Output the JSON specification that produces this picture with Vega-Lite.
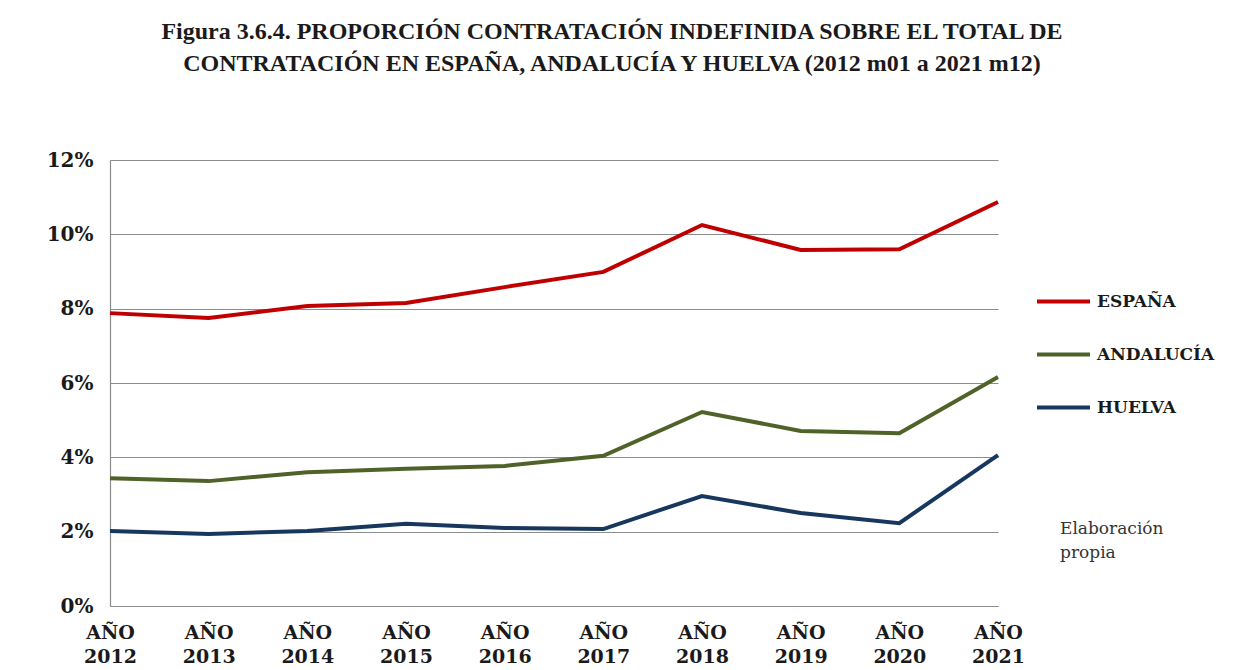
{
  "$schema": "https://vega.github.io/schema/vega-lite/v6.json",
  "autosize": "none",
  "width": 888,
  "height": 446,
  "padding": {"left": 110, "top": 160, "right": 241, "bottom": 64},
  "background": "white",
  "config": {
    "view": {"stroke": null},
    "font": "DejaVu Serif"
  },
  "title": {
    "text": ["Figura 3.6.4. PROPORCIÓN CONTRATACIÓN INDEFINIDA SOBRE EL TOTAL DE", "CONTRATACIÓN  EN ESPAÑA, ANDALUCÍA Y HUELVA (2012 m01 a 2021 m12)"],
    "font": "Liberation Serif",
    "fontSize": 24,
    "fontWeight": "bold",
    "color": "#1a1a1a",
    "lineHeight": 32,
    "anchor": "middle",
    "frame": "group",
    "dx": 58,
    "offset": 74
  },
  "datasets": {
    "series": [
      {"anio": "2012", "serie": "ESPAÑA", "valor": 0.0788},
      {"anio": "2013", "serie": "ESPAÑA", "valor": 0.0775},
      {"anio": "2014", "serie": "ESPAÑA", "valor": 0.0807},
      {"anio": "2015", "serie": "ESPAÑA", "valor": 0.0815},
      {"anio": "2016", "serie": "ESPAÑA", "valor": 0.0858},
      {"anio": "2017", "serie": "ESPAÑA", "valor": 0.0899},
      {"anio": "2018", "serie": "ESPAÑA", "valor": 0.1025},
      {"anio": "2019", "serie": "ESPAÑA", "valor": 0.0958},
      {"anio": "2020", "serie": "ESPAÑA", "valor": 0.0960},
      {"anio": "2021", "serie": "ESPAÑA", "valor": 0.1087},
      {"anio": "2012", "serie": "ANDALUCÍA", "valor": 0.0344},
      {"anio": "2013", "serie": "ANDALUCÍA", "valor": 0.0336},
      {"anio": "2014", "serie": "ANDALUCÍA", "valor": 0.0360},
      {"anio": "2015", "serie": "ANDALUCÍA", "valor": 0.0369},
      {"anio": "2016", "serie": "ANDALUCÍA", "valor": 0.0377},
      {"anio": "2017", "serie": "ANDALUCÍA", "valor": 0.0404},
      {"anio": "2018", "serie": "ANDALUCÍA", "valor": 0.0522},
      {"anio": "2019", "serie": "ANDALUCÍA", "valor": 0.0471},
      {"anio": "2020", "serie": "ANDALUCÍA", "valor": 0.0465},
      {"anio": "2021", "serie": "ANDALUCÍA", "valor": 0.0616},
      {"anio": "2012", "serie": "HUELVA", "valor": 0.0202},
      {"anio": "2013", "serie": "HUELVA", "valor": 0.0194},
      {"anio": "2014", "serie": "HUELVA", "valor": 0.0202},
      {"anio": "2015", "serie": "HUELVA", "valor": 0.0221},
      {"anio": "2016", "serie": "HUELVA", "valor": 0.0210},
      {"anio": "2017", "serie": "HUELVA", "valor": 0.0207},
      {"anio": "2018", "serie": "HUELVA", "valor": 0.0296},
      {"anio": "2019", "serie": "HUELVA", "valor": 0.0250},
      {"anio": "2020", "serie": "HUELVA", "valor": 0.0223},
      {"anio": "2021", "serie": "HUELVA", "valor": 0.0406}
    ],
    "nota": [
      {"anio": "2021", "valor": 0.02, "texto": "Elaboración\npropia"}
    ]
  },
  "layer": [
    {
      "data": {"name": "series"},
      "mark": {"type": "line", "strokeWidth": 4, "strokeJoin": "miter"},
      "encoding": {
        "x": {
          "field": "anio",
          "type": "ordinal",
          "scale": {"type": "point", "padding": 0},
          "axis": {
            "title": null,
            "labelExpr": "['AÑO', datum.label]",
            "labelFont": "DejaVu Serif",
            "labelFontSize": 19,
            "labelFontWeight": "bold",
            "labelColor": "#1a1a1a",
            "labelAngle": 0,
            "labelLineHeight": 24,
            "labelPadding": 17,
            "labelBaseline": "top",
            "ticks": false,
            "domainColor": "#8c8c8c",
            "domainWidth": 1.2,
            "grid": false
          }
        },
        "y": {
          "field": "valor",
          "type": "quantitative",
          "scale": {"domain": [0, 0.12], "nice": false},
          "axis": {
            "title": null,
            "values": [0, 0.02, 0.04, 0.06, 0.08, 0.1, 0.12],
            "format": ".0%",
            "labelFont": "DejaVu Serif",
            "labelFontSize": 20,
            "labelFontWeight": "bold",
            "labelColor": "#1a1a1a",
            "labelPadding": 17,
            "ticks": false,
            "domainColor": "#8c8c8c",
            "domainWidth": 1.2,
            "grid": true,
            "gridColor": "#8c8c8c",
            "gridWidth": 1.2
          }
        },
        "color": {
          "field": "serie",
          "type": "nominal",
          "scale": {"domain": ["ESPAÑA", "ANDALUCÍA", "HUELVA"], "range": ["#C00000", "#4F6228", "#17375E"]},
          "legend": {
            "title": null,
            "orient": "none",
            "legendX": 925,
            "legendY": 113,
            "symbolType": "stroke",
            "symbolSize": 2809,
            "symbolStrokeWidth": 4,
            "rowPadding": 16,
            "labelFont": "DejaVu Serif",
            "labelFontSize": 17,
            "labelFontWeight": "bold",
            "labelColor": "#1a1a1a",
            "labelOffset": 5
          }
        }
      }
    },
    {
      "data": {"name": "nota"},
      "mark": {"type": "text", "align": "left", "baseline": "top", "dx": 62, "dy": -11, "lineBreak": "\n", "lineHeight": 24, "font": "DejaVu Serif", "fontSize": 17, "color": "#333333"},
      "encoding": {
        "x": {"field": "anio", "type": "ordinal"},
        "y": {"field": "valor", "type": "quantitative"},
        "text": {"field": "texto"}
      }
    }
  ]
}
